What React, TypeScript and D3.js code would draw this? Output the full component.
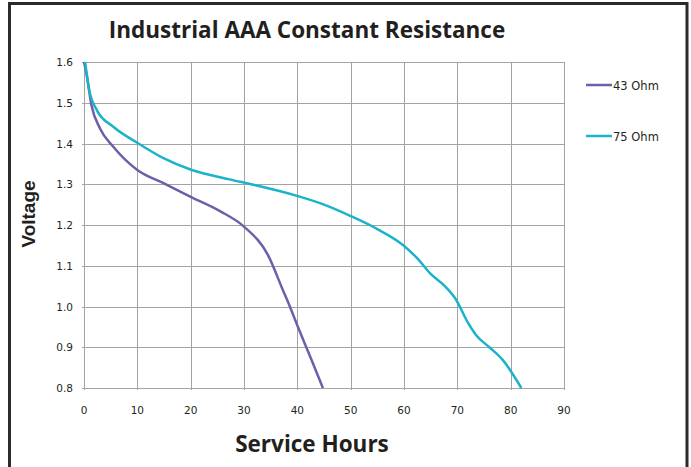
import React from "react";
import * as d3 from "d3";

const hours43 = [0, 0.5, 1.4, 3, 5.5, 10, 15, 20, 25.5, 30, 34.5, 37.3, 38.6, 39.8, 42, 44.8];
const volts43 = [1.6, 1.568, 1.494, 1.437, 1.392, 1.335, 1.302, 1.269, 1.234, 1.196, 1.126, 1.04, 1.0, 0.96, 0.89, 0.8];

const hours75 = [0.2, 1, 2.4, 5.5, 10.2, 14.9, 20.2, 27.3, 32, 39.8, 45, 50, 55, 59.8, 62.5, 65, 67.5, 69.8, 71.9, 73.5, 76, 78.5, 82];
const volts75 = [1.6, 1.53, 1.482, 1.441, 1.4, 1.364, 1.335, 1.312, 1.298, 1.272, 1.25, 1.222, 1.19, 1.151, 1.118, 1.08, 1.052, 1.016, 0.962, 0.93, 0.9, 0.869, 0.8];

const xTicks = [0, 10, 20, 30, 40, 50, 60, 70, 80, 90];
const yTicks = [0.8, 0.9, 1.0, 1.1, 1.2, 1.3, 1.4, 1.5, 1.6];

const seriesNames = ["43 Ohm", "75 Ohm"];
const seriesColors = ["#6f5fa9", "#1bb3c8"];

const W = 691;
const H = 467;
const left = 84;
const right = 564;
const top = 62;
const bottom = 388;

export default function App() {
  const x = d3.scaleLinear().domain([0, 90]).range([left, right]);
  const y = d3.scaleLinear().domain([0.8, 1.6]).range([bottom, top]);
  const line = d3
    .line<[number, number]>()
    .x((d) => x(d[0]))
    .y((d) => y(d[1]))
    .curve(d3.curveMonotoneX);

  const s43: [number, number][] = hours43.map((h, i) => [h, volts43[i]]);
  const s75: [number, number][] = hours75.map((h, i) => [h, volts75[i]]);
  const series = [s43, s75];
  const gridColor = "#a3a3a3";
  const tickFont = "'DejaVu Sans', sans-serif";

  return (
    <svg
      width={W}
      height={H}
      style={{ position: "absolute", left: 0, top: 0, background: "#fff" }}
    >
      <rect x={0} y={0} width={W} height={H} fill="#fff" />
      <path
        d={`M9.5,${H + 5} L9.5,3.5 L687,3.5 L687,${H + 5}`}
        fill="none"
        stroke="#2b2b2b"
        strokeWidth={3}
      />
      <text
        x={307}
        y={38}
        textAnchor="middle"
        fontFamily="'Open Sans', sans-serif"
        fontWeight="bold"
        fontSize={22.5}
        fill="#231f20"
      >
        Industrial AAA Constant Resistance
      </text>
      {yTicks.map((t) => (
        <line
          key={"gy" + t}
          x1={left - 2}
          x2={right}
          y1={Math.round(y(t)) + 0.5}
          y2={Math.round(y(t)) + 0.5}
          stroke={gridColor}
          strokeWidth={1}
        />
      ))}
      {xTicks.map((t) => (
        <line
          key={"gx" + t}
          x1={Math.round(x(t)) + 0.5}
          x2={Math.round(x(t)) + 0.5}
          y1={top}
          y2={bottom + 2}
          stroke={gridColor}
          strokeWidth={1}
        />
      ))}
      {yTicks.map((t) => (
        <text
          key={"ly" + t}
          x={73}
          y={y(t) + 4}
          textAnchor="end"
          fontFamily={tickFont}
          fontSize={10.5}
          fill="#231f20"
        >
          {t.toFixed(1)}
        </text>
      ))}
      {xTicks.map((t) => (
        <text
          key={"lx" + t}
          x={x(t)}
          y={414}
          textAnchor="middle"
          fontFamily={tickFont}
          fontSize={10.5}
          fill="#231f20"
        >
          {t}
        </text>
      ))}
      {series.map((s, i) => (
        <path
          key={"s" + i}
          d={line(s) || ""}
          fill="none"
          stroke={seriesColors[i]}
          strokeWidth={2.5}
          strokeLinejoin="round"
        />
      ))}
      {seriesNames.map((n, i) => (
        <g key={"lg" + i} transform={`translate(0,${85 + i * 51})`}>
          <line x1={586} x2={612} y1={0} y2={0} stroke={seriesColors[i]} strokeWidth={2.5} />
          <text
            x={613}
            y={5}
            fontFamily={tickFont}
            fontSize={11.5}
            fill="#231f20"
          >
            {n}
          </text>
        </g>
      ))}
      <text
        transform={`translate(35,214) rotate(-90)`}
        textAnchor="middle"
        fontFamily="'Liberation Sans', Arial, sans-serif"
        fontWeight="bold"
        fontSize={19}
        fill="#231f20"
      >
        Voltage
      </text>
      <text
        x={312}
        y={452}
        textAnchor="middle"
        fontFamily="'Open Sans', sans-serif"
        fontWeight="bold"
        fontSize={22.5}
        fill="#231f20"
      >
        Service Hours
      </text>
    </svg>
  );
}
